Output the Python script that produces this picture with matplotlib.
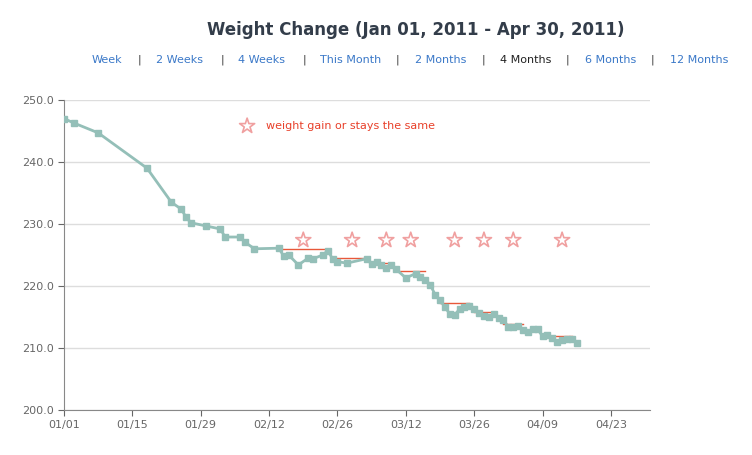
import matplotlib.pyplot as plt

# days since 01/01/2011 and weights
days = [0, 2, 7, 17, 22, 24, 25, 26, 29, 32, 33, 36, 37, 39, 44, 45, 46, 48, 50, 51, 53, 54,
        55, 56, 58, 62, 63, 64, 65, 66, 67, 68, 70, 72, 73, 74, 75, 76, 77, 78, 79, 80,
        81, 82, 83, 84, 85, 86, 87, 88, 89, 90, 91, 92, 93, 94, 95, 96, 97, 98, 99, 100,
        101, 102, 103, 104, 105]
weights = [247.0, 246.3, 244.7, 239.0, 233.5, 232.4, 231.1, 230.2, 229.7, 229.2, 227.9, 227.9,
           227.1, 226.0, 226.1, 224.8, 225.0, 223.4, 224.5, 224.4, 225.0, 225.7,
           224.4, 223.9, 223.7, 224.4, 223.5, 223.9, 223.4, 222.9, 223.4, 222.7, 221.3,
           222.0, 221.5, 221.0, 220.2, 218.6, 217.7, 216.6, 215.5, 215.3, 216.3, 216.6,
           216.8, 216.3, 215.6, 215.2, 215.0, 215.5, 214.8, 214.5, 213.4, 213.4, 213.5,
           212.9, 212.6, 213.0, 213.0, 211.9, 212.1, 211.6, 211.0, 211.3, 211.5, 211.5, 210.8]

# weekly reference levels (start day, end day, weight)
levels = [(44, 54, 226.0), (55, 62, 224.5), (63, 67, 223.7), (68, 74, 222.5),
          (77, 83, 217.3), (84, 88, 215.8), (90, 94, 213.9), (98, 104, 211.9)]
star_days = [49, 59, 66, 71, 80, 86, 92, 102]
star_y = 227.4

tick_days = [0, 14, 28, 42, 56, 70, 84, 98, 112]
tick_labels = ['01/01', '01/15', '01/29', '02/12', '02/26', '03/12', '03/26', '04/09', '04/23']
y_ticks = [200, 210, 220, 230, 240, 250]

nav = ['Week', '2 Weeks', '4 Weeks', 'This Month', '2 Months', '4 Months', '6 Months', '12 Months']

fig = plt.figure(figsize=(7.52, 4.55), dpi=100)
ax = fig.add_axes([64 / 752, 1 - 410 / 455, (650 - 64) / 752, 310 / 455])

line_col = '#94bfb8'
for d0, d1, w in levels:
    ax.plot([d0, d1], [w, w], color='#e8583a', lw=1, zorder=2)
ax.plot(days, weights, color=line_col, lw=2, marker='s', ms=5, zorder=3)
ax.scatter(star_days, [star_y] * len(star_days), marker='*', s=130, facecolors='none',
           edgecolors='#f0a0a0', linewidths=1.2, zorder=4)
ax.scatter([37.5], [245.8], marker='*', s=130, facecolors='none',
           edgecolors='#f0a0a0', linewidths=1.2, zorder=4)
ax.text(41.3, 245.8, 'weight gain or stays the same', color='#e8402a', fontsize=8, va='center')

ax.set_xlim(0, 120)
ax.set_ylim(200, 250)
ax.set_xticks(tick_days)
ax.set_xticklabels(tick_labels)
ax.set_yticks(y_ticks)
ax.set_yticklabels(['%.1f' % v for v in y_ticks])
ax.tick_params(labelsize=8, colors='#666666', length=4)
ax.yaxis.grid(True, color='#dddddd', lw=1)
ax.set_axisbelow(True)
for s in ['top', 'right']:
    ax.spines[s].set_visible(False)
ax.spines['left'].set_color('#888888')
ax.spines['bottom'].set_color('#888888')

fig.text(416 / 752, 1 - 30 / 455, 'Weight Change (Jan 01, 2011 - Apr 30, 2011)', ha='center',
         va='center', fontsize=12, fontweight='bold', color='#333d4a')
xs = [107, 180, 262, 351, 441, 526, 611, 699]
seps = [139, 222, 304, 397, 483, 567, 652]
for x, t in zip(xs, nav):
    fig.text(x / 752, 1 - 60 / 455, t, ha='center', va='center', fontsize=8,
             color='#222222' if t == '4 Months' else '#3a78c8')
for x in seps:
    fig.text(x / 752, 1 - 60 / 455, '|', ha='center', va='center', fontsize=8, color='#333333')

fig.savefig('out.png')
